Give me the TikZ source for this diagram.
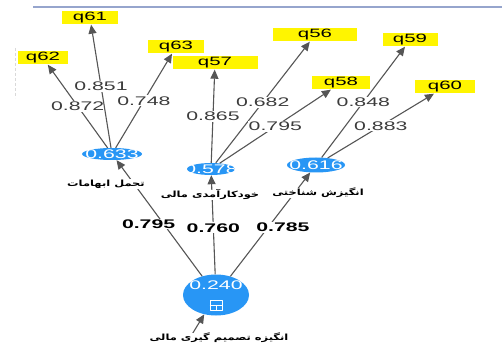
\documentclass[tikz,border=0pt]{standalone}
\usepackage{fontspec}
\setmainfont{Liberation Sans}
\newfontfamily\pls[FakeStretch=1.7]{Liberation Sans}
\newfontfamily\fa[Script=Arabic,FakeStretch=1.35]{DejaVu Sans}
\TeXXeTstate=1
\usetikzlibrary{arrows.meta}
\usetikzlibrary{shapes.geometric}
\definecolor{lvblue}{RGB}{40,150,245}
\definecolor{indyel}{RGB}{255,245,0}
\definecolor{lncol}{RGB}{85,85,85}
\definecolor{ldcol}{RGB}{60,60,60}
\definecolor{framecol}{RGB}{150,165,205}
\tikzset{ind/.style={fill=indyel, minimum width=56pt, minimum height=13pt, inner sep=0pt, font=\pls\fontsize{12}{12}\selectfont}}
\tikzset{lv/.style={ellipse, fill=lvblue, text=white, inner sep=0pt, font=\pls\fontsize{12.5}{12.5}\selectfont}}
\tikzset{ld/.style={fill=white, text=ldcol, inner sep=1pt, font=\pls\fontsize{12.5}{12.5}\selectfont}}
\tikzset{pc/.style={fill=white, inner sep=1pt, font=\pls\bfseries\fontsize{12.5}{12.5}\selectfont}}
\tikzset{fa/.style={fill=white, inner sep=1pt, text height=6pt, text depth=2pt, font=\fa\bfseries\fontsize{8.5}{9}\selectfont}}
\tikzset{cn/.style={draw=lncol, line width=1.1pt, -{Triangle[length=9pt,width=8pt]}}}
\newcommand{\vl}[1]{\smash{\makebox[0pt]{\raisebox{-.36em}{#1}}}}

\begin{document}
\begin{tikzpicture}[x=1pt,y=-1pt,line join=round]
  \useasboundingbox (0,0) rectangle (502,347);
  \draw[framecol, line width=1.5pt] (33,7) -- (502,7);
  \draw[black!15, densely dashed] (15,48) -- (15,98);
  % indicators
  \node[ind] (q61) at (90,18) {q61};
  \node[ind, minimum width=50pt] (q62) at (43,58) {q62};
  \node[ind] (q63) at (176,47) {q63};
  \node[ind, minimum width=85pt] (q57) at (215,63) {q57};
  \node[ind, minimum width=84pt] (q56) at (315,35) {q56};
  \node[ind, minimum width=58pt] (q58) at (341,83) {q58};
  \node[ind, minimum width=55pt] (q59) at (410,40) {q59};
  \node[ind, minimum width=60pt] (q60) at (445,87) {q60};
  % first order constructs
  \node[lv, minimum width=60pt, minimum height=12pt] (tol) at (112,154) {\vl{0.633}}
    edge [cn] node [ld] (l62) {0.872} (q62)
    edge [cn] node [ld] (l61) {0.851} (q61)
    edge [cn] node [ld] (l63) {0.748} (q63);
  \node[lv, minimum width=48pt, minimum height=12pt] (eff) at (211,169) {\vl{0.578}}
    edge [cn] node [ld] (l57) {0.865} (q57)
    edge [cn] node [ld] (l56) {0.682} (q56)
    edge [cn] node [ld] (l58) {0.795} (q58);
  \node[lv, minimum width=58pt, minimum height=15pt] (cog) at (316,165) {\vl{0.616}}
    edge [cn] node [ld] (l59) {0.848} (q59)
    edge [cn] node [ld] (l60) {0.883} (q60);
  % second order construct
  \node[lv, minimum width=66pt, minimum height=41pt] (mot) at (216,295) {}
    edge [cn] node [pc, pos=0.45, xshift=-15pt] (p1) {0.795} (tol)
    edge [cn] node [pc, pos=0.47] (p2) {0.760} (eff)
    edge [cn] node [pc, pos=0.47, xshift=15pt] (p3) {0.785} (cog);
  \node[text=white, inner sep=0pt, font=\pls\fontsize{12.5}{12.5}\selectfont] (v240) at (216,285) {0.240};
  \node[draw=white, line width=1pt, minimum width=12pt, minimum height=10pt, inner sep=0pt] (ico) at (216,305) {};
  \draw[white, line width=1pt] (ico.west) -- (ico.east) (ico.center) -- (ico.south);
  \coordinate (src) at (188,341);
  \draw[cn] (src) -- (mot);
  % names
  \node[fa] (tA) at (106,184) {\beginR تحمل ابهامات\endR};
  \node[fa] (tB) at (210,195) {\beginR خودکارآمدی مالی\endR};
  \node[fa] (tC) at (318,193) {\beginR انگیزش شناختی\endR};
  \node[fa] (tD) at (219,338) {\beginR انگیزه تصمیم گیری مالی\endR};
\end{tikzpicture}
\end{document}
